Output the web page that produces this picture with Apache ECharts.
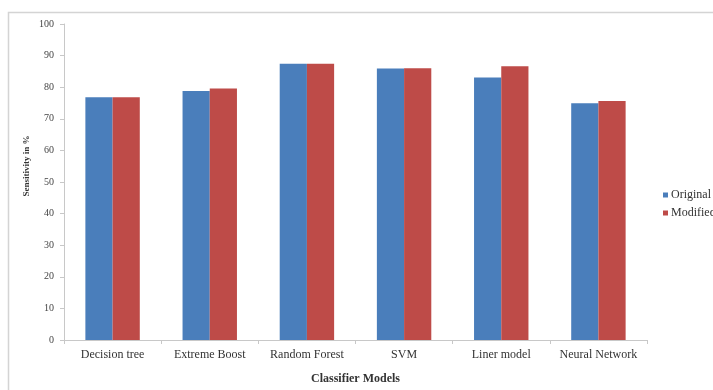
<!DOCTYPE html>
<html>
<head>
<meta charset="utf-8">
<script src="https://cdn.jsdelivr.net/npm/echarts@6/dist/echarts.min.js"></script>
<style>
  html, body { margin: 0; padding: 0; background: #fff; }
  #chart { width: 713px; height: 390px; }
</style>
</head>
<body>
<div id="chart"></div>
<script>
// Classifier models and their sensitivity scores (%)
var categories = ['Decision tree', 'Extreme Boost', 'Random Forest', 'SVM', 'Liner model', 'Neural Network'];
var originalValues = [76.8, 78.8, 87.4, 85.9, 83.1, 74.9];
var modifiedValues = [76.8, 79.6, 87.4, 86.0, 86.6, 75.6];
var yTicks = [0, 10, 20, 30, 40, 50, 60, 70, 80, 90, 100];

var serif = '"Liberation Serif", "DejaVu Serif", serif';
var chart = echarts.init(document.getElementById('chart'));

chart.setOption({
  animation: false,
  backgroundColor: '#ffffff',
  grid: { left: 64, right: 66, top: 24, bottom: 47 },
  graphic: [
    {
      type: 'polyline',
      shape: { points: [[8.5, 400], [8.5, 12.5], [720, 12.5]] },
      style: { stroke: '#d4d4d4', lineWidth: 1.5, fill: null }
    },
    {
      type: 'text',
      x: 27, y: 166,
      rotation: Math.PI / 2,
      style: {
        text: 'Sensitivity in %',
        font: 'bold 9px ' + serif,
        fill: '#333',
        textAlign: 'center',
        textVerticalAlign: 'middle'
      }
    }
  ],
  legend: {
    orient: 'vertical',
    left: 663, top: 189,
    padding: 0,
    itemWidth: 5, itemHeight: 5, itemGap: 6,
    icon: 'rect',
    textStyle: { fontFamily: serif, fontSize: 12, color: '#333', padding: [0, 0, 0, -2] },
    data: ['Original', 'Modified']
  },
  xAxis: {
    type: 'category',
    data: categories,
    name: 'Classifier Models',
    nameLocation: 'middle',
    nameGap: 33,
    nameTextStyle: { fontFamily: serif, fontSize: 12, fontWeight: 'bold', color: '#333' },
    axisLine: { lineStyle: { color: '#c8c8c8' } },
    axisTick: { show: true, length: 4, lineStyle: { color: '#c8c8c8' } },
    axisLabel: { interval: 0, hideOverlap: false, fontFamily: serif, fontSize: 12, color: '#333', margin: 9 }
  },
  yAxis: {
    type: 'value',
    min: 0, max: 100, interval: 10,
    axisLine: { show: true, lineStyle: { color: '#c8c8c8' } },
    axisTick: { show: true, length: 4, lineStyle: { color: '#c8c8c8' } },
    splitLine: { show: false },
    axisLabel: {
      fontFamily: serif, fontSize: 10, color: '#444', margin: 10,
      formatter: function (v) { return yTicks.indexOf(v) >= 0 ? String(v) : ''; }
    }
  },
  series: [
    {
      name: 'Original', type: 'bar', data: originalValues,
      barGap: '0%', barCategoryGap: '44%',
      itemStyle: { color: '#4a7ebb' }
    },
    {
      name: 'Modified', type: 'bar', data: modifiedValues,
      itemStyle: { color: '#be4b48' }
    }
  ]
});
</script>
</body>
</html>
